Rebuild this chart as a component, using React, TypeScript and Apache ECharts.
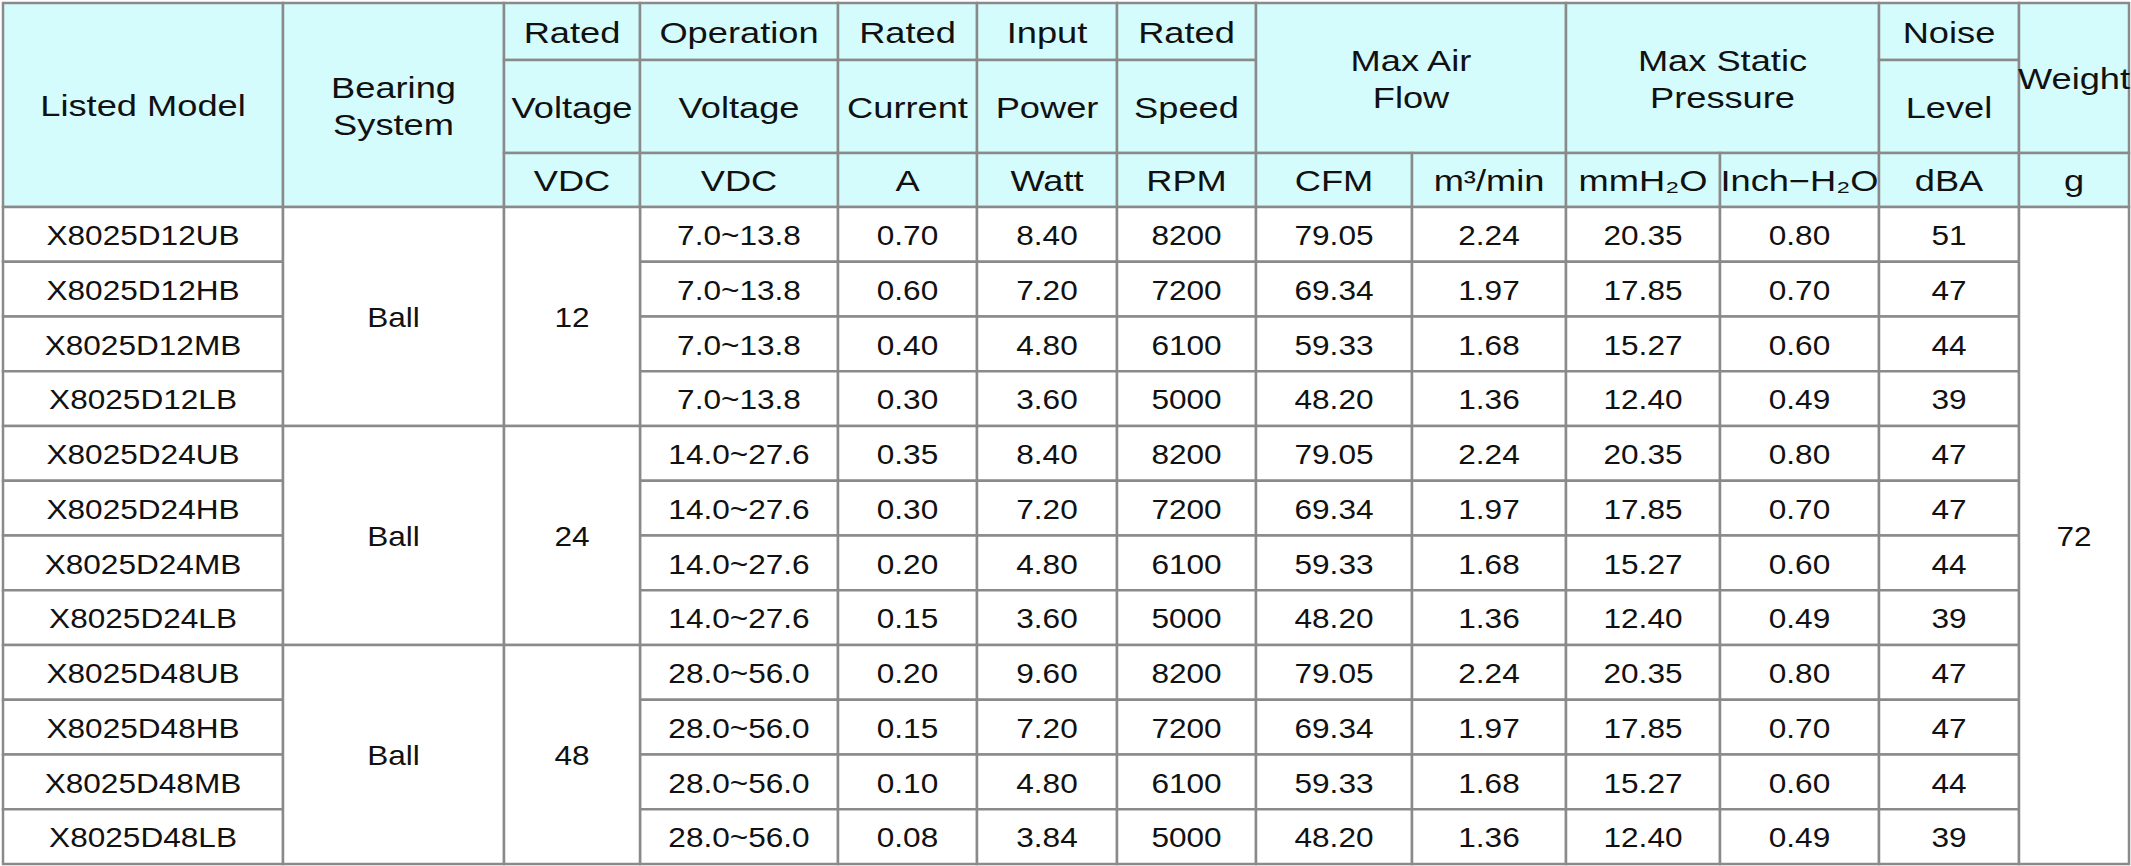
import React, { useEffect, useRef } from "react";
import * as echarts from "echarts";

// ---------- data ----------
const models = [
  "X8025D12UB", "X8025D12HB", "X8025D12MB", "X8025D12LB",
  "X8025D24UB", "X8025D24HB", "X8025D24MB", "X8025D24LB",
  "X8025D48UB", "X8025D48HB", "X8025D48MB", "X8025D48LB",
];
const bearingGroups = ["Ball", "Ball", "Ball"];
const ratedVoltages = [12, 24, 48];
const operationVoltages = [
  "7.0~13.8", "7.0~13.8", "7.0~13.8", "7.0~13.8",
  "14.0~27.6", "14.0~27.6", "14.0~27.6", "14.0~27.6",
  "28.0~56.0", "28.0~56.0", "28.0~56.0", "28.0~56.0",
];
const ratedCurrent = [0.7, 0.6, 0.4, 0.3, 0.35, 0.3, 0.2, 0.15, 0.2, 0.15, 0.1, 0.08];
const inputPower = [8.4, 7.2, 4.8, 3.6, 8.4, 7.2, 4.8, 3.6, 9.6, 7.2, 4.8, 3.84];
const ratedSpeed = [8200, 7200, 6100, 5000, 8200, 7200, 6100, 5000, 8200, 7200, 6100, 5000];
const airFlowCFM = [79.05, 69.34, 59.33, 48.2, 79.05, 69.34, 59.33, 48.2, 79.05, 69.34, 59.33, 48.2];
const airFlowM3 = [2.24, 1.97, 1.68, 1.36, 2.24, 1.97, 1.68, 1.36, 2.24, 1.97, 1.68, 1.36];
const pressureMm = [20.35, 17.85, 15.27, 12.4, 20.35, 17.85, 15.27, 12.4, 20.35, 17.85, 15.27, 12.4];
const pressureInch = [0.8, 0.7, 0.6, 0.49, 0.8, 0.7, 0.6, 0.49, 0.8, 0.7, 0.6, 0.49];
const noiseLevel = [51, 47, 44, 39, 47, 47, 44, 39, 47, 47, 44, 39];
const weight = 72;

// header labels: [colStart, colEnd, rowStart, rowEnd, text]
const headerLabels: [number, number, number, number, string][] = [
  [0, 1, 0, 3, "Listed Model"],
  [1, 2, 0, 3, "Bearing\nSystem"],
  [2, 3, 0, 1, "Rated"], [2, 3, 1, 2, "Voltage"], [2, 3, 2, 3, "VDC"],
  [3, 4, 0, 1, "Operation"], [3, 4, 1, 2, "Voltage"], [3, 4, 2, 3, "VDC"],
  [4, 5, 0, 1, "Rated"], [4, 5, 1, 2, "Current"], [4, 5, 2, 3, "A"],
  [5, 6, 0, 1, "Input"], [5, 6, 1, 2, "Power"], [5, 6, 2, 3, "Watt"],
  [6, 7, 0, 1, "Rated"], [6, 7, 1, 2, "Speed"], [6, 7, 2, 3, "RPM"],
  [7, 9, 0, 2, "Max Air\nFlow"], [7, 8, 2, 3, "CFM"], [8, 9, 2, 3, "m³/min"],
  [9, 11, 0, 2, "Max Static\nPressure"], [9, 10, 2, 3, "mmH₂O"], [10, 11, 2, 3, "Inch−H₂O"],
  [11, 12, 0, 1, "Noise"], [11, 12, 1, 2, "Level"], [11, 12, 2, 3, "dBA"],
  [12, 13, 0, 2, "Weight"], [12, 13, 2, 3, "g"],
];

// ---------- layout (axis units = pixels of the page) ----------
const COL_EDGES = [3, 283, 504, 640, 838, 977, 1117, 1256, 1412, 1566, 1720, 1879, 2019, 2129];
const HEAD_EDGES = [3, 60, 153, 207];
const BODY_TOP = 207;
const BODY_BOTTOM = 864;
const W = 2131;
const H = 866;

type Cell = { c0: number; c1: number; r0: number; r1: number; text: string; header: boolean };

function buildCells(): Cell[] {
  const cells: Cell[] = [];
  headerLabels.forEach(([c0, c1, r0, r1, text]) => cells.push({ c0, c1, r0, r1, text, header: true }));
  const n = models.length;
  const push = (c: number, r0: number, r1: number, text: string) =>
    cells.push({ c0: c, c1: c + 1, r0: 3 + r0, r1: 3 + r1, text, header: false });
  for (let i = 0; i < n; i++) {
    push(0, i, i + 1, models[i]);
    push(3, i, i + 1, operationVoltages[i]);
    push(4, i, i + 1, ratedCurrent[i].toFixed(2));
    push(5, i, i + 1, inputPower[i].toFixed(2));
    push(6, i, i + 1, String(ratedSpeed[i]));
    push(7, i, i + 1, airFlowCFM[i].toFixed(2));
    push(8, i, i + 1, airFlowM3[i].toFixed(2));
    push(9, i, i + 1, pressureMm[i].toFixed(2));
    push(10, i, i + 1, pressureInch[i].toFixed(2));
    push(11, i, i + 1, String(noiseLevel[i]));
  }
  bearingGroups.forEach((b, g) => {
    push(1, g * 4, g * 4 + 4, b);
    push(2, g * 4, g * 4 + 4, String(ratedVoltages[g]));
  });
  push(12, 0, n, String(weight));
  return cells;
}

function rowEdge(r: number, nBody: number): number {
  if (r <= 3) return HEAD_EDGES[r];
  return BODY_TOP + ((r - 3) * (BODY_BOTTOM - BODY_TOP)) / nBody;
}

export default function App() {
  const ref = useRef<HTMLDivElement>(null);
  useEffect(() => {
    document.body.style.margin = "0";
    if (!ref.current) return;
    const chart = echarts.init(ref.current, undefined, { renderer: "svg" });
    const cells = buildCells();
    const nBody = models.length;
    const data = cells.map((c) => [
      COL_EDGES[c.c0], rowEdge(c.r0, nBody), COL_EDGES[c.c1], rowEdge(c.r1, nBody),
    ]);
    chart.setOption({
      animation: false,
      backgroundColor: "#ffffff",
      grid: { left: 0, right: 0, top: 0, bottom: 0 },
      xAxis: { type: "value", min: 0, max: W, show: false },
      yAxis: { type: "value", min: 0, max: H, inverse: true, show: false },
      series: [
        {
          type: "custom",
          coordinateSystem: "cartesian2d",
          encode: { x: [0, 2], y: [1, 3] },
          data,
          renderItem: (params: any, api: any) => {
            const cell = cells[params.dataIndex];
            const p0 = api.coord([api.value(0), api.value(1)]);
            const p1 = api.coord([api.value(2), api.value(3)]);
            const x = p0[0], y = p0[1];
            const w = p1[0] - p0[0], h = p1[1] - p0[1];
            return {
              type: "group",
              children: [
                {
                  type: "rect",
                  shape: { x, y, width: w, height: h },
                  style: {
                    fill: cell.header ? "#d5fcfd" : "#ffffff",
                    stroke: "#8a8a8a",
                    lineWidth: 2.5,
                  },
                },
                {
                  type: "text",
                  x: x + w / 2,
                  y: y + h / 2 + 1,
                  scaleX: cell.header ? 1.25 : 1.17,
                  style: {
                    text: cell.text,
                    x: 0,
                    y: 0,
                    align: "center",
                    verticalAlign: "middle",
                    fontSize: cell.header ? 29 : 27,
                    lineHeight: 37,
                    fontFamily: '"Liberation Sans", Arial, Helvetica, sans-serif',
                    fill: "#111111",
                  },
                },
              ],
            };
          },
        },
      ],
    });
    return () => chart.dispose();
  }, []);
  return <div ref={ref} style={{ width: W, height: H }} />;
}
